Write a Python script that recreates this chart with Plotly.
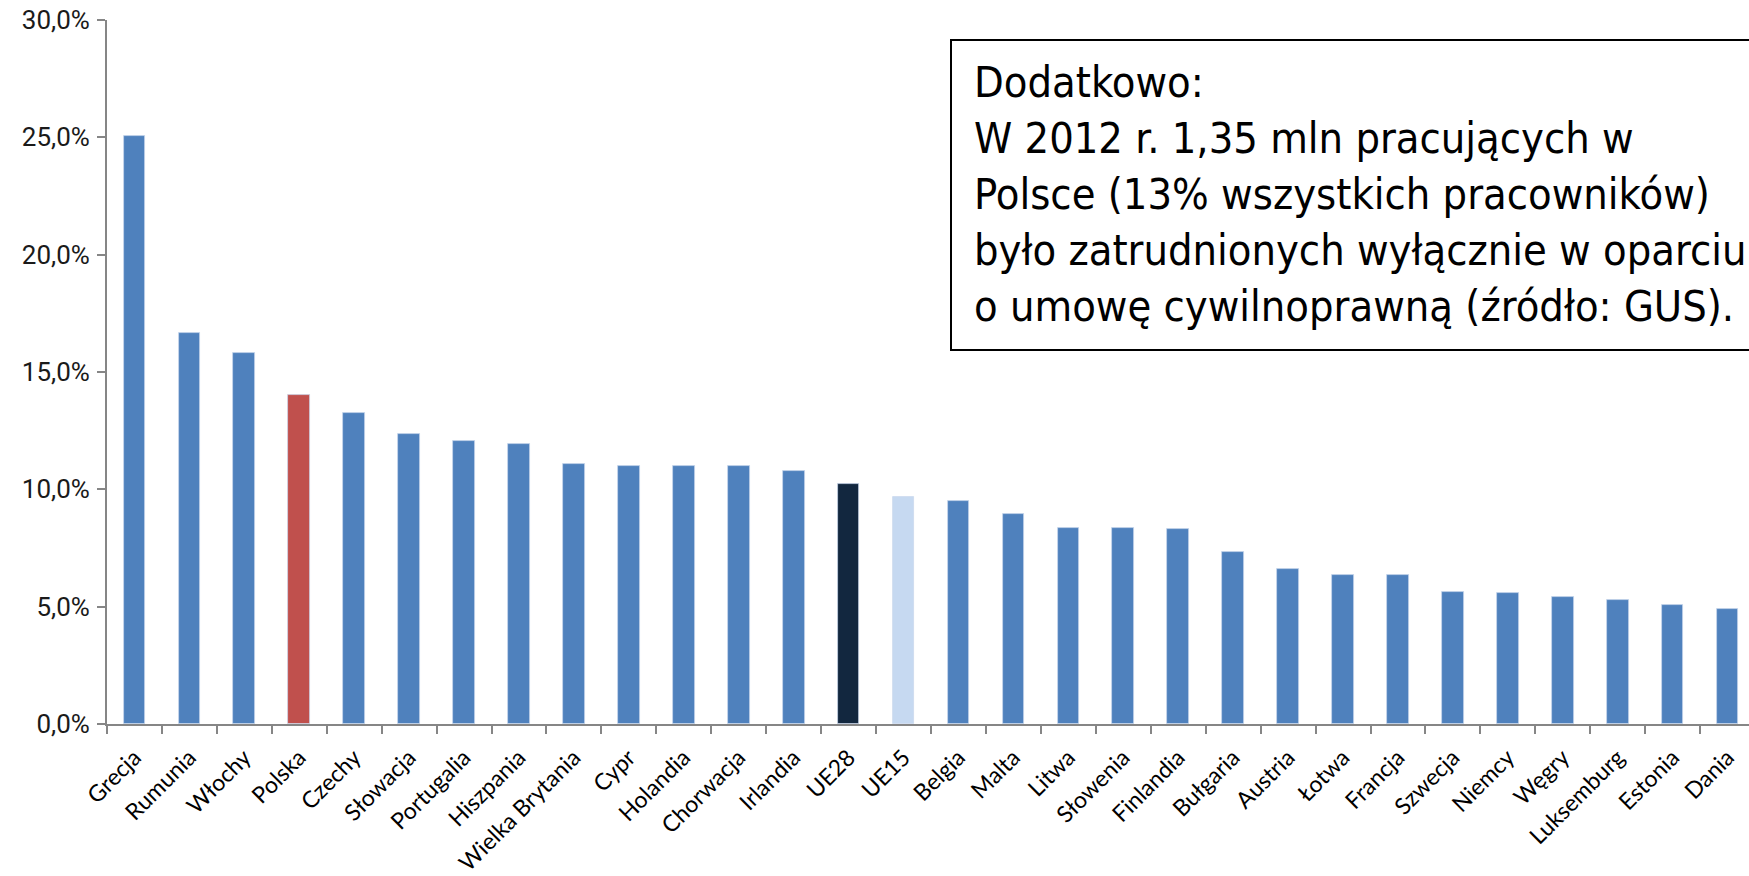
import plotly.graph_objects as go

# Udział pracowników zatrudnionych na umowach czasowych / cywilnoprawnych
countries = ["Grecja", "Rumunia", "Włochy", "Polska", "Czechy", "Słowacja",
             "Portugalia", "Hiszpania", "Wielka Brytania", "Cypr", "Holandia",
             "Chorwacja", "Irlandia", "UE28", "UE15", "Belgia", "Malta", "Litwa",
             "Słowenia", "Finlandia", "Bułgaria", "Austria", "Łotwa", "Francja",
             "Szwecja", "Niemcy", "Węgry", "Luksemburg", "Estonia", "Dania"]
shares = [25.07, 16.67, 15.79, 14.0, 13.25, 12.35, 12.07, 11.93, 11.08, 11.01,
          11.01, 10.98, 10.77, 10.23, 9.67, 9.49, 8.96, 8.35, 8.34, 8.30, 7.34,
          6.60, 6.33, 6.33, 5.62, 5.60, 5.41, 5.27, 5.06, 4.91]

BLUE, RED, NAVY, LIGHT = "#4F81BD", "#C0504D", "#12273F", "#C6D9F1"
highlight = {"Polska": RED, "UE28": NAVY, "UE15": LIGHT}
bar_colors = [highlight.get(c, BLUE) for c in countries]

y_ticks = [0, 5, 10, 15, 20, 25, 30]
y_tick_text = ["0,0%", "5,0%", "10,0%", "15,0%", "20,0%", "25,0%", "30,0%"]

note_lines = [
    "Dodatkowo:",
    "W 2012 r. 1,35 mln pracujących w",
    "Polsce (13% wszystkich pracowników)",
    "było zatrudnionych wyłącznie w oparciu",
    "o umowę cywilnoprawną (źródło: GUS).",
]

fig = go.Figure(go.Bar(
    x=countries,
    y=shares,
    width=0.395,
    marker=dict(color=bar_colors, line=dict(color="rgba(200,215,235,0.9)", width=0.8)),
))

axis_gray = "#868686"

fig.update_layout(
    width=1749,
    height=876,
    margin=dict(l=107, r=0, t=20, b=152),
    paper_bgcolor="white",
    plot_bgcolor="white",
    showlegend=False,
    bargap=0,
)

fig.update_xaxes(
    range=[-0.5, 29.39],
    automargin=False,
    showline=True, linecolor=axis_gray, linewidth=2,
    ticks="outside", tickson="boundaries", ticklen=8, tickwidth=2, tickcolor=axis_gray,
    tickangle=-45,
    tickfont=dict(family="Lato", size=23, color="black"),
    ticklabelstandoff=9,
    showgrid=False, zeroline=False,
)

fig.update_yaxes(
    range=[0, 30],
    automargin=False,
    tickvals=y_ticks, ticktext=y_tick_text,
    showline=True, linecolor=axis_gray, linewidth=2,
    ticks="outside", ticklen=8, tickwidth=2, tickcolor=axis_gray,
    tickfont=dict(family="Roboto", size=26, color="#1a1a1a"),
    ticklabelstandoff=2,
    showgrid=False, zeroline=False,
)

# Ramka z dodatkowym komentarzem
fig.add_shape(
    type="rect", xref="paper", yref="paper",
    x0=(951 - 107) / 1642, x1=1.02,
    y0=(724 - 350) / 704, y1=(724 - 40) / 704,
    line=dict(color="black", width=2), fillcolor="white", layer="above",
)
fig.add_annotation(
    xref="paper", yref="paper",
    x=(972 - 107) / 1642, y=(724 - 194) / 704,
    xanchor="left", yanchor="middle", align="left",
    text="<br>".join(note_lines),
    showarrow=False,
    font=dict(family="DejaVu Sans Condensed, DejaVu Sans", size=43, color="black"),
)

fig.write_html("out.html")
